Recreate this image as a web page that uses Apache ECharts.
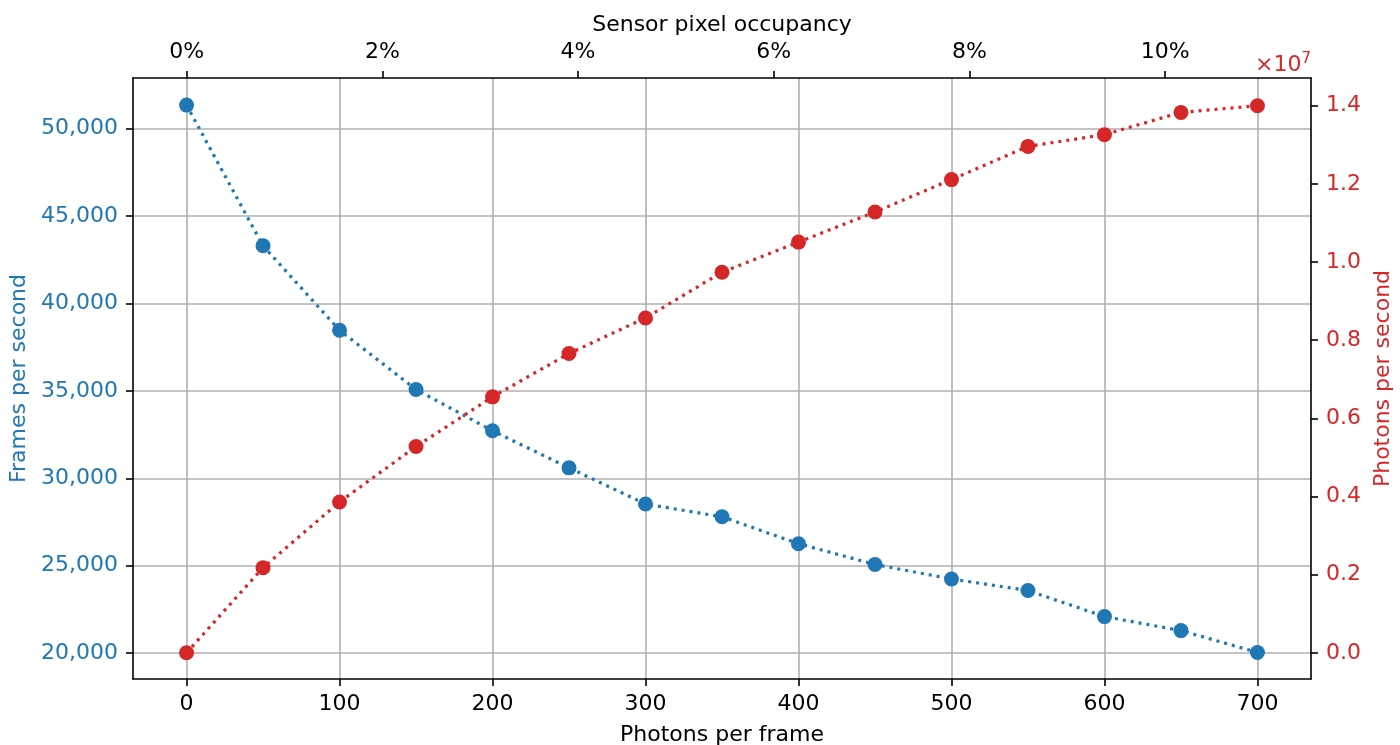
<!DOCTYPE html>
<html lang="en">
<head>
    <meta charset="utf-8">
    <title>Frames and photons per second</title>
    <script src="https://cdn.jsdelivr.net/npm/echarts@6/dist/echarts.min.js"></script>
    <style>
        html, body { margin: 0; padding: 0; background: #fff; }
        #main { width: 1400px; height: 745px; }
    </style>
</head>
<body>
    <div id="main"></div>
    <script type="text/javascript">

    // --- data ---
    var photonsPerFrame = [0, 50, 100, 150, 200, 250, 300, 350, 400, 450, 500, 550, 600, 650, 700];
    var framesPerSecond = [51350, 43300, 38470, 35080, 32720, 30600, 28530, 27800, 26260, 25070, 24240, 23580, 22090, 21290, 20040];
    // photons per second, in units of 1e7 (as on the right axis)
    var photonsPerSecond = [0.0, 0.218, 0.386, 0.528, 0.655, 0.766, 0.857, 0.974, 1.051, 1.128, 1.211, 1.296, 1.326, 1.383, 1.400];

    // tick values
    var xTicks = [0, 100, 200, 300, 400, 500, 600, 700];
    var occupancyTicks = [0, 2, 4, 6, 8, 10];
    var fpsTicks = [20000, 25000, 30000, 35000, 40000, 45000, 50000];
    var ppsTicks = [0, 0.2, 0.4, 0.6, 0.8, 1.0, 1.2, 1.4];

    var BLUE = '#1f77b4', RED = '#d62728';
    var FONT = 'DejaVu Sans';
    var FS = 22;

    var tickStyle = { show: true, inside: false, length: 7, lineStyle: { color: '#000', width: 1.6 } };
    var lineStyleAxis = { show: true, onZero: false, lineStyle: { color: '#000', width: 1.6 } };

    function pairs(xs, ys) {
        return xs.map(function (x, i) { return [x, ys[i]]; });
    }

    var chart = echarts.init(document.getElementById('main'), null, { renderer: 'canvas' });
    chart.setOption({
        animation: false,
        textStyle: { fontFamily: FONT },
        grid: { left: 133, right: 89, top: 78, bottom: 66, containLabel: false, outerBoundsMode: 'none' },
        xAxis: [{
            type: 'value',
            position: 'bottom',
            min: -35, max: 735,
            name: 'Photons per frame',
            nameLocation: 'middle',
            nameGap: 45,
            nameTextStyle: { color: '#000', fontSize: FS, fontFamily: FONT },
            axisLine: lineStyleAxis,
            axisTick: Object.assign({ customValues: xTicks }, tickStyle),
            axisLabel: { customValues: xTicks, color: '#000', fontSize: FS, fontFamily: FONT, margin: 14 },
            splitLine: { show: true, lineStyle: { color: '#b0b0b0', width: 1.6 } }
        }, {
            type: 'value',
            position: 'top',
            min: -0.548, max: 11.49,
            name: 'Sensor pixel occupancy',
            nameLocation: 'middle',
            nameGap: 41,
            nameTextStyle: { color: '#000', fontSize: FS, fontFamily: FONT },
            axisLine: lineStyleAxis,
            axisTick: Object.assign({ customValues: occupancyTicks }, tickStyle),
            axisLabel: {
                customValues: occupancyTicks, color: '#000', fontSize: FS, fontFamily: FONT, margin: 15,
                formatter: function (v) { return v + '%'; }
            },
            splitLine: { show: false }
        }],
        yAxis: [{
            type: 'value',
            position: 'left',
            min: 18520, max: 52900,
            name: 'Frames per second',
            nameLocation: 'middle',
            nameGap: 102,
            nameTextStyle: { color: BLUE, fontSize: FS, fontFamily: FONT },
            axisLine: lineStyleAxis,
            axisTick: Object.assign({ customValues: fpsTicks }, tickStyle),
            axisLabel: {
                customValues: fpsTicks, color: BLUE, fontSize: FS, fontFamily: FONT, margin: 15,
                formatter: function (v) { return v.toLocaleString('en-US'); }
            },
            splitLine: { show: true, lineStyle: { color: '#b0b0b0', width: 1.6 } }
        }, {
            type: 'value',
            position: 'right',
            min: -0.067, max: 1.471,
            name: 'Photons per second',
            nameLocation: 'middle',
            nameGap: 49,
            nameRotate: 90,
            nameTextStyle: { color: RED, fontSize: FS, fontFamily: FONT },
            axisLine: lineStyleAxis,
            axisTick: Object.assign({ customValues: ppsTicks }, tickStyle),
            axisLabel: {
                customValues: ppsTicks, color: RED, fontSize: FS, fontFamily: FONT, margin: 15,
                formatter: function (v) { return v.toFixed(1); }
            },
            splitLine: { show: false }
        }],
        graphic: [{
            type: 'text',
            right: 89,
            top: 52,
            style: {
                text: '{a|×10}{s|7}',
                rich: {
                    a: { fill: RED, fontSize: FS, fontFamily: FONT },
                    s: { fill: RED, fontSize: 15, fontFamily: FONT, verticalAlign: 'top', padding: [0, 0, 12, 0] }
                }
            }
        }],
        series: [{
            name: 'Frames per second',
            type: 'line',
            xAxisIndex: 0,
            yAxisIndex: 0,
            data: pairs(photonsPerFrame, framesPerSecond),
            symbol: 'circle',
            symbolSize: 15,
            itemStyle: { color: BLUE },
            lineStyle: { color: BLUE, width: 3.2, type: [3, 5], cap: 'butt' }
        }, {
            name: 'Photons per second',
            type: 'line',
            xAxisIndex: 0,
            yAxisIndex: 1,
            data: pairs(photonsPerFrame, photonsPerSecond),
            symbol: 'circle',
            symbolSize: 15,
            itemStyle: { color: RED },
            lineStyle: { color: RED, width: 3.2, type: [3, 5], cap: 'butt' }
        }]
    });
    </script>
</body>
</html>
